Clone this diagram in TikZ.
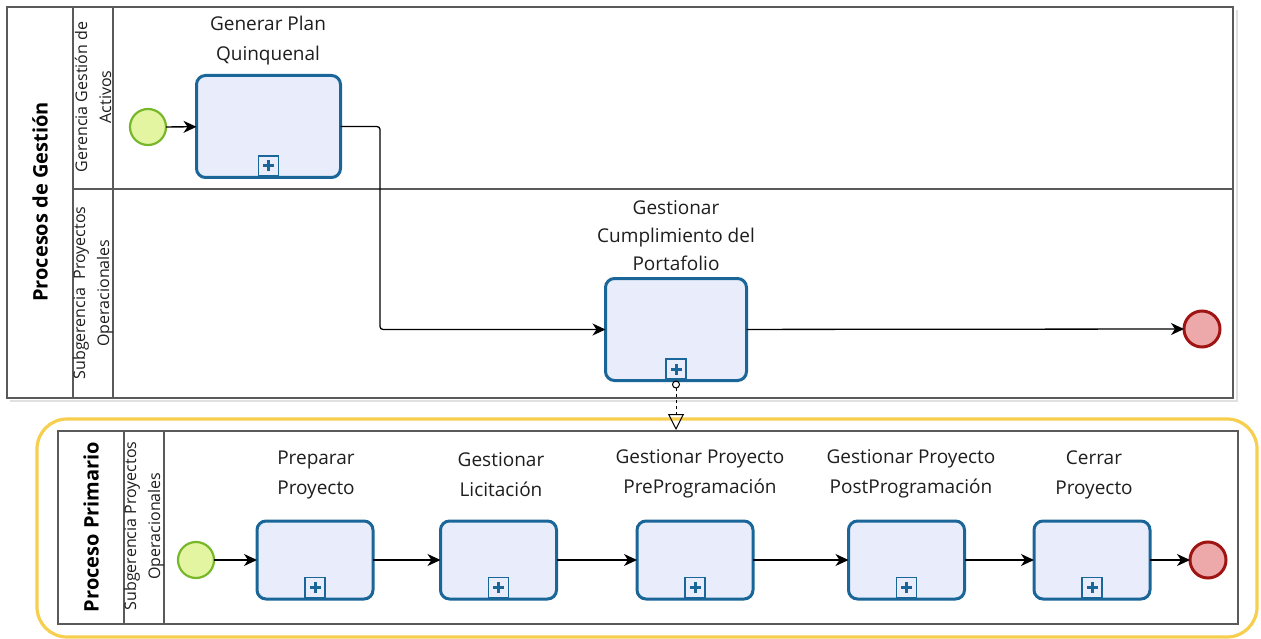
\documentclass[tikz,border=0pt]{standalone}
\usepackage{fontspec}
\setmainfont{Open Sans}
\usetikzlibrary{arrows.meta,calc}
\definecolor{taskfill}{HTML}{E9EDFB}
\definecolor{taskdraw}{HTML}{1A6698}
\definecolor{startfill}{HTML}{E4F5A2}
\definecolor{startdraw}{HTML}{77B82A}
\definecolor{endfill}{HTML}{EDA9A9}
\definecolor{enddraw}{HTML}{A11414}
\definecolor{poolline}{HTML}{5A5A5A}
\definecolor{yellowline}{HTML}{F6CF4F}
\definecolor{txt}{HTML}{1E1E1E}
\tikzset{
  task/.style={draw=taskdraw,fill=taskfill,line width=3pt,rounded corners=9pt,minimum width=#1,outer sep=0pt,inner sep=0pt},
  task/.default=116pt,
  startev/.style={circle,draw=startdraw,fill=startfill,line width=2.2pt,minimum size=36pt,inner sep=0pt,outer sep=0pt},
  endev/.style={circle,draw=enddraw,fill=endfill,line width=3pt,minimum size=36pt,inner sep=0pt,outer sep=0pt},
  lbl/.style={align=center,font=\fontsize{19}{30}\selectfont,text=txt,inner sep=0pt},
  lanelbl/.style={rotate=90,align=center,font=\fontsize{16}{24}\selectfont,text=txt,inner sep=0pt},
  poollbl/.style={rotate=90,align=center,font=\fontsize{20}{22}\selectfont\bfseries,text=black,inner sep=0pt},
  pool/.style={draw=poolline,line width=1.4pt},
  flow/.style={draw=black,line width=1.3pt,-{Stealth[length=13pt,width=12pt,inset=4pt]}},
  msg/.style={draw=black,line width=1pt,dashed,{Circle[open,length=8pt,width=8pt]}-{Triangle[open,length=16pt,width=16pt]}},
  plusbox/.style={draw=taskdraw,fill=taskfill,line width=1.8pt,minimum size=20pt,inner sep=0pt,outer sep=0pt}
}
\newcommand{\plusmark}[1]{%
  \node[plusbox,anchor=south] (#1-pm) at ([yshift=1.5pt]#1.south) {};
  \draw[taskdraw,line width=3pt] ([yshift=-5.5pt]#1-pm.center) -- ([yshift=5.5pt]#1-pm.center);
  \draw[taskdraw,line width=3pt] ([xshift=-5.5pt]#1-pm.center) -- ([xshift=5.5pt]#1-pm.center);
}
\begin{document}
\begin{tikzpicture}[x=1pt,y=-1pt]
\useasboundingbox[fill=white] (0,0) rectangle (1261,639);
% ---------- top pool ----------
\draw[draw=black!12,line width=2pt] (1237,10) -- (1237,401) -- (10,401);
\draw[pool] (7,7) rectangle (1233,398);
\draw[pool] (73,7) -- (73,398);
\draw[pool] (113,7) -- (113,398);
\draw[pool] (73,189) -- (1233,189);
\node[poollbl] (p1) at (40,202) {Procesos de Gestión};
\node[lanelbl] (l1) at (93,97) {Gerencia Gestión de\\Activos};
\node[lanelbl] (l2) at (93,293) {Subgerencia\ \ Proyectos\\Operacionales};

\node[startev] (s1) at (148,127) {};
\node[task=144pt,minimum height=102pt] (t1) at (268.5,126.5) {};
\plusmark{t1}
\node[lbl] (t1l) at (268,41) {Generar Plan\\Quinquenal};

\node[task=141pt,minimum height=102pt] (t2) at (676,329.5) {};
\plusmark{t2}
\node[lbl,font=\fontsize{19}{28}\selectfont] (t2l) at (676,236) {Gestionar\\Cumplimiento del\\Portafolio};

\node[endev] (e1) at (1202,329) {};

\coordinate (k1) at (380,0);
\draw[flow] (s1) -- (t1);
\draw[flow,rounded corners=3pt] (t1.east) -| (k1 |- t2.west) -- (t2.west);
\draw[flow] (t2) -- (e1);

% ---------- bottom pool ----------
\draw[draw=yellowline,line width=3.2pt,rounded corners=30pt] (37,419) rectangle (1257,637);
\draw[pool] (58,431) rectangle (1238,624);
\draw[pool] (124,431) -- (124,624);
\draw[pool] (164,431) -- (164,624);
\node[poollbl] (p2) at (91,527) {Proceso Primario};
\node[lanelbl] (l3) at (144,526) {Subgerencia Proyectos\\Operacionales};

\node[startev] (s2) at (196,560) {};
\node[task,minimum height=78pt] (b1) at (315,560) {};
\node[task,minimum height=78pt] (b2) at (498.5,560) {};
\node[task,minimum height=78pt] (b3) at (695,560) {};
\node[task,minimum height=78pt] (b4) at (906.5,560) {};
\node[task,minimum height=78pt] (b5) at (1092,560) {};
\node[endev] (e2) at (1208,560) {};
\plusmark{b1}\plusmark{b2}\plusmark{b3}\plusmark{b4}\plusmark{b5}

\node[lbl] (b1l) at (316,475) {Preparar\\Proyecto};
\node[lbl] (b2l) at (501,475) {Gestionar\\Licitación};
\node[lbl] (b3l) at (700,474) {Gestionar Proyecto\\PreProgramación};
\node[lbl] (b4l) at (911,474) {Gestionar Proyecto\\PostProgramación};
\node[lbl] (b5l) at (1094,475) {Cerrar\\Proyecto};

\draw[flow] (s2) -- (b1);
\draw[flow] (b1) -- (b2);
\draw[flow] (b2) -- (b3);
\draw[flow] (b3) -- (b4);
\draw[flow] (b4) -- (b5);
\draw[flow] (b5) -- (e2);

% message flow
\coordinate (m2) at (676,430);
\draw[msg] (t2.south) -- (m2);
\end{tikzpicture}
\end{document}
